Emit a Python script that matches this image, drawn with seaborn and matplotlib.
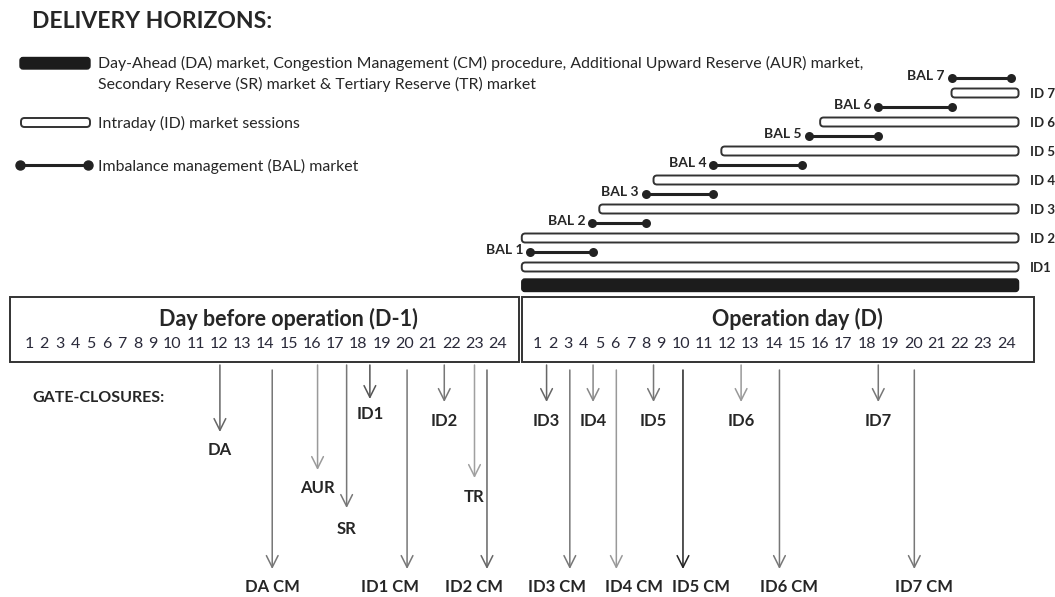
import numpy as np
import pandas as pd
import matplotlib
matplotlib.use("Agg")
import matplotlib.pyplot as plt
import seaborn as sns
from matplotlib.patches import FancyBboxPatch, Rectangle

# ---------------- data ----------------
HOURS = list(range(1, 25))
DAYS = ["D-1", "D"]
DAY_TITLES = ["Day before operation (D-1)", "Operation day (D)"]

DA_SPAN = (0, 24)  # DA / CM / AUR / SR / TR delivery horizon on day D

ID_NAMES = ["ID1", "ID 2", "ID 3", "ID 4", "ID 5", "ID 6", "ID 7"]
ID_START = [0, 0, 5, 8.5, 11.75, 16, 21.65]
ID_END = [24, 24, 24, 24, 24, 24, 24]

BAL_NAMES = ["BAL 1", "BAL 2", "BAL 3", "BAL 4", "BAL 5", "BAL 6", "BAL 7"]
BAL_START = [0.55, 4.55, 8.0, 11.4, 15.5, 18.5, 21.65]
BAL_END = [4.6, 8.0, 11.37, 15.2, 18.5, 21.65, 23.8]

GC_LABELS = ["DA", "DA CM", "AUR", "SR", "ID1", "ID1 CM", "ID2", "TR", "ID2 CM",
             "ID3", "ID3 CM", "ID4", "ID4 CM", "ID5", "ID5 CM", "ID6", "ID6 CM",
             "ID7", "ID7 CM"]
GC_DAY = ["D-1"] * 9 + ["D"] * 10
GC_HOUR = [12.05, 14.3, 16.25, 17.5, 18.5, 20.1, 21.7, 23.0, 23.35,
           1.6, 3.1, 4.6, 6.1, 8.5, 10.1, 12.6, 14.25, 18.5, 20.05]

LEGEND_TEXT = [
    "Day-Ahead (DA) market, Congestion Management (CM) procedure, Additional Upward Reserve (AUR) market,\n"
    "Secondary Reserve (SR) market & Tertiary Reserve (TR) market",
    "Intraday (ID) market sessions",
    "Imbalance management (BAL) market",
]

# ---------------- layout ----------------
sns.set_theme(style="white")
FONT = ["Lato", "DejaVu Sans"]
plt.rcParams["font.family"] = FONT
TXT = "#262626"

# arrow layout per gate-closure: (arrow top, arrow end, label y), label dx, colour
SHORT = (365, 402, 421)
LONG = (370, 569, 587)
GC_LAYOUT = {
    "DA": ((365, 432, 450), 0, "#666666"),
    "DA CM": (LONG, 0, "#777777"),
    "AUR": ((365, 470, 488), 0, "#9a9a9a"),
    "SR": ((365, 508, 529), 0, "#777777"),
    "ID1": ((365, 399, 414), 0, "#555555"),
    "ID1 CM": (LONG, -17, "#777777"),
    "ID2": (SHORT, 0, "#777777"),
    "TR": ((365, 478, 497), 0, "#a0a0a0"),
    "ID2 CM": (LONG, -13, "#666666"),
    "ID3": (SHORT, 0, "#666666"),
    "ID3 CM": (LONG, -13, "#777777"),
    "ID4": (SHORT, 0, "#888888"),
    "ID4 CM": (LONG, 18, "#999999"),
    "ID5": (SHORT, 0, "#777777"),
    "ID5 CM": (LONG, 18, "#222222"),
    "ID6": (SHORT, 0, "#999999"),
    "ID6 CM": (LONG, 10, "#777777"),
    "ID7": (SHORT, 0, "#777777"),
    "ID7 CM": (LONG, 10, "#777777"),
}

CHAR_PX = 7.75
ORIGIN_PX = 25
DAY_SHIFT = {"D-1": 0.0, "D": 65.6}


def label_units(h):
    s = sum(len(str(k)) + 1 for k in range(1, h))
    return s + len(str(h)) / 2


ANCHOR_T = [0] + HOURS[:-1] + [24]
ANCHOR_U = [-1.5] + [label_units(h) for h in HOURS[:-1]] + [label_units(24) + 1.6]


def to_px(day, t):
    u = np.interp(t, ANCHOR_T, ANCHOR_U) + DAY_SHIFT[day]
    return ORIGIN_PX + CHAR_PX * u


def id_y(k):
    return 267 - 29.0 * k


def bal_y(k):
    return id_y(k) - 15


fig = plt.figure(figsize=(10.55, 5.97), dpi=100)
ax = fig.add_axes([0, 0, 1, 1])

# ---- BAL segments (seaborn) ----
rows = []
for k, (n, s, e) in enumerate(zip(BAL_NAMES, BAL_START, BAL_END)):
    rows.append(dict(session=n, x=to_px("D", s), y=bal_y(k)))
    rows.append(dict(session=n, x=to_px("D", e), y=bal_y(k)))
bal_df = pd.DataFrame(rows)
sns.lineplot(data=bal_df, x="x", y="y", units="session", estimator=None, sort=False,
             color="#222222", lw=2.2, ax=ax, legend=False)
sns.scatterplot(data=bal_df, x="x", y="y", color="#222222", s=42, linewidth=0,
                ax=ax, legend=False, zorder=4)
for k, (n, s) in enumerate(zip(BAL_NAMES, BAL_START)):
    ax.text(to_px("D", s) - 7, bal_y(k) - 2, n, ha="right", va="center",
            fontsize=10, fontweight="bold", color=TXT)

# ---- ID sessions ----
for k, (n, s, e) in enumerate(zip(ID_NAMES, ID_START, ID_END)):
    x0, x1 = to_px("D", s), to_px("D", e)
    ax.add_patch(FancyBboxPatch((x0, id_y(k) - 4.5), x1 - x0, 9,
                                boxstyle="round,pad=0,rounding_size=3.5",
                                fc="white", ec="#333333", lw=1.4, zorder=3))
    ax.text(x1 + 11, id_y(k) + 1, n, ha="left", va="center", fontsize=9.5,
            fontweight="bold", color=TXT)

# ---- DA horizon ----
x0, x1 = to_px("D", DA_SPAN[0]), to_px("D", DA_SPAN[1])
ax.add_patch(FancyBboxPatch((x0, 279), x1 - x0, 12.5,
                            boxstyle="round,pad=0,rounding_size=3",
                            fc="#1c1c1c", ec="#1c1c1c", lw=1, zorder=3))

# ---- day boxes with hours ----
box_edges = {"D-1": (10, to_px("D", 0) - 3), "D": (to_px("D", 0), to_px("D", 24) + 15)}
for day, title in zip(DAYS, DAY_TITLES):
    a, b = box_edges[day]
    ax.add_patch(Rectangle((a, 297), b - a, 65, fill=False, ec="#333333", lw=1.4))
    ax.text(ORIGIN_PX + CHAR_PX * (label_units(15) + DAY_SHIFT[day]), 319, title,
            ha="center", va="center", fontsize=15.5, color=TXT, fontweight="bold")
    for h in HOURS:
        ax.text(ORIGIN_PX + CHAR_PX * (label_units(h) + DAY_SHIFT[day]), 344, str(h),
                ha="center", va="center", fontsize=11.5, color="#2a2a3a")

# ---- gate closures ----
for lab, day, h in zip(GC_LABELS, GC_DAY, GC_HOUR):
    (y0, y1, ly), dx, col = GC_LAYOUT[lab]
    x = to_px(day, h)
    ax.annotate("", xy=(x, y1), xytext=(x, y0),
                arrowprops=dict(arrowstyle="->,head_length=0.6,head_width=0.3",
                                color=col, lw=1.1, shrinkA=0, shrinkB=0,
                                mutation_scale=14))
    ax.text(x + dx, ly, lab, ha="center", va="center", fontsize=12,
            fontweight="bold", color=TXT)

ax.text(32, 398, "GATE-CLOSURES:", ha="left", va="center", fontsize=11.5,
        fontweight="bold", color=TXT)

# ---- legend / header ----
ax.text(32, 22, "DELIVERY HORIZONS:", ha="left", va="center", fontsize=16.5,
        fontweight="bold", color=TXT)
ax.add_patch(FancyBboxPatch((20, 57.5), 70, 11.5, boxstyle="round,pad=0,rounding_size=3",
                            fc="#1c1c1c", ec="#1c1c1c", lw=1))
ax.text(98, 74, LEGEND_TEXT[0], ha="left", va="center", fontsize=11.4, color=TXT,
        linespacing=1.55)
ax.add_patch(FancyBboxPatch((21, 118), 69, 9, boxstyle="round,pad=0,rounding_size=3.5",
                            fc="white", ec="#333333", lw=1.4))
ax.text(98, 123, LEGEND_TEXT[1], ha="left", va="center", fontsize=11.4, color=TXT)
ax.plot([20, 88], [165, 165], color="#222222", lw=2.2, marker="o", ms=6.5,
        markevery=[0, 1])
ax.text(98, 166, LEGEND_TEXT[2], ha="left", va="center", fontsize=11.4, color=TXT)

ax.set_xlim(0, 1055)
ax.set_ylim(597, 0)
ax.axis("off")
fig.savefig("out.png", dpi=100, facecolor="white")
